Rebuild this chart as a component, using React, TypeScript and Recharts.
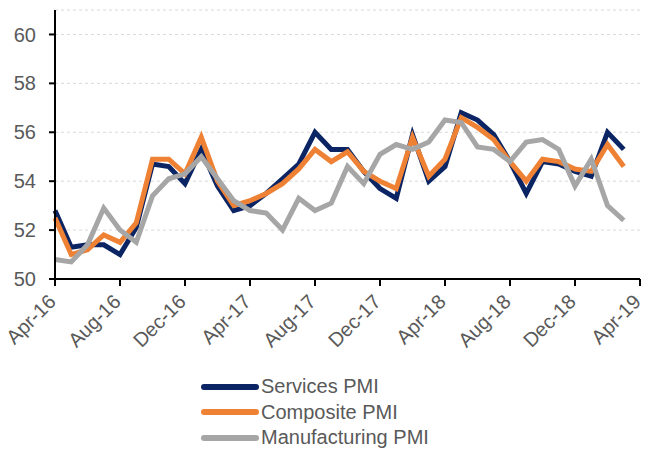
import { CartesianGrid, Line, LineChart, XAxis, YAxis } from "recharts";

// months since Apr-16 (0 = Apr-16 ... 35 = Mar-19)
const tickLabels = ["Apr-16", "Aug-16", "Dec-16", "Apr-17", "Aug-17", "Dec-17", "Apr-18", "Aug-18", "Dec-18", "Apr-19"];
const xTicks = [0, 4, 8, 12, 16, 20, 24, 28, 32, 36];
const yTicks = [50, 52, 54, 56, 58, 60];

const services = [
  52.8, 51.3, 51.4, 51.4, 51.0, 52.1, 54.7, 54.6, 53.9, 55.3, 53.8, 52.8,
  53.0, 53.5, 54.1, 54.7, 56.0, 55.3, 55.3, 54.4, 53.7, 53.3, 55.9, 54.0,
  54.6, 56.8, 56.5, 55.9, 54.8, 53.5, 54.8, 54.7, 54.4, 54.2, 56.0, 55.3,
];
const composite = [
  52.5, 51.0, 51.2, 51.8, 51.5, 52.3, 54.9, 54.9, 54.3, 55.8, 54.0, 53.0,
  53.2, 53.5, 53.9, 54.5, 55.3, 54.8, 55.2, 54.4, 54.0, 53.7, 55.8, 54.2,
  54.9, 56.6, 56.2, 55.7, 54.8, 54.0, 54.9, 54.8, 54.5, 54.4, 55.5, 54.6,
];
const manufacturing = [
  50.8, 50.7, 51.4, 52.9, 52.0, 51.5, 53.4, 54.1, 54.3, 55.0, 54.1, 53.2,
  52.8, 52.7, 52.0, 53.3, 52.8, 53.1, 54.6, 53.9, 55.1, 55.5, 55.3, 55.6,
  56.5, 56.4, 55.4, 55.3, 54.8, 55.6, 55.7, 55.3, 53.8, 54.9, 53.0, 52.4,
];

const series = [
  { key: "services", name: "Services PMI", color: "#0B2463" },
  { key: "composite", name: "Composite PMI", color: "#EE8133" },
  { key: "manufacturing", name: "Manufacturing PMI", color: "#A6A6A6" },
];

const data = services.map((v, i) => ({ m: i, services: v, composite: composite[i], manufacturing: manufacturing[i] }));

const textColor = "#595959";
const font = "Arial, 'Liberation Sans', sans-serif";

function XTick(props: any) {
  const { x, y, payload } = props;
  const label = tickLabels[xTicks.indexOf(payload.value)] ?? "";
  const ax = x + 2;
  const ay = y + 15;
  return (
    <text
      x={ax}
      y={ay}
      transform={`rotate(-45, ${ax}, ${ay})`}
      textAnchor="end"
      fill={textColor}
      fontSize={20}
      fontFamily={font}
    >
      {label}
    </text>
  );
}

export default function App() {
  return (
    <div style={{ position: "absolute", left: 0, top: 0, width: 646, height: 451, background: "#fff" }}>
      <LineChart width={646} height={451} data={data} margin={{ top: 10, right: 6, bottom: 102, left: 0 }}>
        <CartesianGrid vertical={false} stroke="#d9d9d9" strokeDasharray="3 3" />
        <XAxis
          dataKey="m"
          type="number"
          domain={[0, 36]}
          ticks={xTicks}
          interval={0}
          height={70}
          axisLine={{ stroke: "#000", strokeWidth: 2 }}
          tickLine={{ stroke: "#000", strokeWidth: 2 }}
          tickSize={7}
          tick={<XTick />}
        />
        <YAxis
          type="number"
          domain={[50, 61]}
          ticks={yTicks}
          interval={0}
          width={55}
          axisLine={{ stroke: "#000", strokeWidth: 2 }}
          tickLine={{ stroke: "#000", strokeWidth: 2 }}
          tickSize={6}
          tickMargin={13}
          tick={{ fill: textColor, fontSize: 20, fontFamily: font }}
        />
        {series.map((s) => (
          <Line
            key={s.key}
            type="linear"
            dataKey={s.key}
            name={s.name}
            stroke={s.color}
            strokeWidth={5}
            dot={false}
            activeDot={false}
            isAnimationActive={false}
          />
        ))}
      </LineChart>
      <div style={{ position: "absolute", left: 198, top: 374, fontFamily: font, fontSize: 20, color: textColor }}>
        {series.map((s) => (
          <div key={s.key} style={{ display: "flex", alignItems: "center", height: 25.5 }}>
            <svg width={62} height={10} style={{ display: "block" }}>
              <line x1={6} y1={5} x2={58} y2={5} stroke={s.color} strokeWidth={6} strokeLinecap="round" />
            </svg>
            <span style={{ marginLeft: 1, lineHeight: "25px" }}>{s.name}</span>
          </div>
        ))}
      </div>
    </div>
  );
}
